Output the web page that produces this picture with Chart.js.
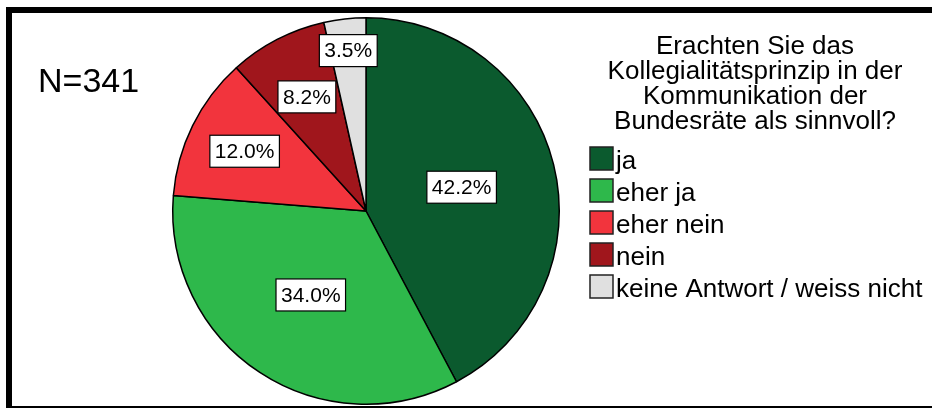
<!DOCTYPE html>
<html>
<head>
<meta charset="utf-8">
<script src="https://cdn.jsdelivr.net/npm/chart.js@4/dist/chart.umd.min.js"></script>
<style>
  html, body { margin: 0; padding: 0; background: #fff; }
  canvas { display: block; }
</style>
</head>
<body>
<canvas id="pieChart" width="932" height="408"></canvas>
<script>
'use strict';

// DATA
const categories = ['ja', 'eher ja', 'eher nein', 'nein', 'keine Antwort / weiss nicht'];
const percents = [42.2, 34.0, 12.0, 8.2, 3.5];
const sampleSize = 'N=341';
const titleLines = ['Erachten Sie das', 'Kollegialitätsprinzip in der', 'Kommunikation der', 'Bundesräte als sinnvoll?'];

// styles
const sliceColors = ['#0b5a2e', '#2eb84b', '#f2343d', '#a0161c', '#e0e0e0'];
const labelRadius = [0.51, 0.52, 0.70, 0.665, 0.835];  // fraction of radius for the % boxes
const FONT = '"Liberation Sans", Arial, sans-serif';

// white page + thick black frame (top, left, bottom)
const framePlugin = {
  id: 'frame',
  beforeDraw(chart) {
    const ctx = chart.ctx;
    ctx.save();
    ctx.fillStyle = '#fff';
    ctx.fillRect(0, 0, chart.width, chart.height);
    ctx.fillStyle = '#000';
    ctx.fillRect(6, 7, chart.width - 6, 6);
    ctx.fillRect(6, 7, 6, chart.height - 7);
    ctx.fillRect(6, 406, chart.width - 6, 2);
    ctx.restore();
  }
};

// percentage boxes on the slices
const sliceLabels = {
  id: 'sliceLabels',
  afterDatasetsDraw(chart) {
    const ctx = chart.ctx;
    const meta = chart.getDatasetMeta(0);
    ctx.save();
    ctx.font = '21px ' + FONT;
    ctx.textAlign = 'center';
    ctx.textBaseline = 'middle';
    meta.data.forEach((arc, i) => {
      const p = arc.getProps(['x', 'y', 'startAngle', 'endAngle', 'outerRadius'], true);
      const mid = (p.startAngle + p.endAngle) / 2;
      const r = p.outerRadius * labelRadius[i];
      const cx = p.x + Math.cos(mid) * r;
      const cy = p.y + Math.sin(mid) * r;
      const txt = percents[i].toFixed(1) + '%';
      const w = ctx.measureText(txt).width + 10;
      const h = 32;
      ctx.fillStyle = '#fff';
      ctx.fillRect(cx - w / 2, cy - h / 2, w, h);
      ctx.strokeStyle = '#000';
      ctx.lineWidth = 1.2;
      ctx.strokeRect(cx - w / 2, cy - h / 2, w, h);
      ctx.fillStyle = '#000';
      ctx.fillText(txt, cx, cy + 1);
    });
    ctx.restore();
  }
};

// N, title and legend on the right
const sideText = {
  id: 'sideText',
  afterDraw(chart) {
    const ctx = chart.ctx;
    ctx.save();
    ctx.fillStyle = '#000';
    ctx.textBaseline = 'alphabetic';

    ctx.font = '34px ' + FONT;
    ctx.textAlign = 'left';
    ctx.fillText(sampleSize, 38, 92);

    ctx.font = '26px ' + FONT;
    ctx.textAlign = 'center';
    titleLines.forEach((line, i) => {
      ctx.fillText(line, 755, 54 + i * 25);
    });

    ctx.textAlign = 'left';
    const ds = chart.data.datasets[0];
    chart.data.labels.forEach((lab, i) => {
      const base = 169 + i * 32;
      ctx.fillStyle = ds.backgroundColor[i];
      ctx.fillRect(590, base - 22, 23, 23);
      ctx.strokeStyle = '#222';
      ctx.lineWidth = 1.5;
      ctx.strokeRect(590, base - 22, 23, 23);
      ctx.fillStyle = '#000';
      ctx.fillText(lab, 616, base);
    });
    ctx.restore();
  }
};

new Chart(document.getElementById('pieChart'), {
  type: 'pie',
  data: {
    labels: categories,
    datasets: [{
      data: percents,
      backgroundColor: sliceColors,
      borderColor: '#000',
      borderWidth: 1.5
    }]
  },
  options: {
    responsive: false,
    animation: false,
    layout: { padding: { left: 172, right: 372, top: 17, bottom: 3 } },
    plugins: {
      legend: { display: false },
      tooltip: { enabled: false }
    }
  },
  plugins: [framePlugin, sliceLabels, sideText]
});
</script>
</body>
</html>
